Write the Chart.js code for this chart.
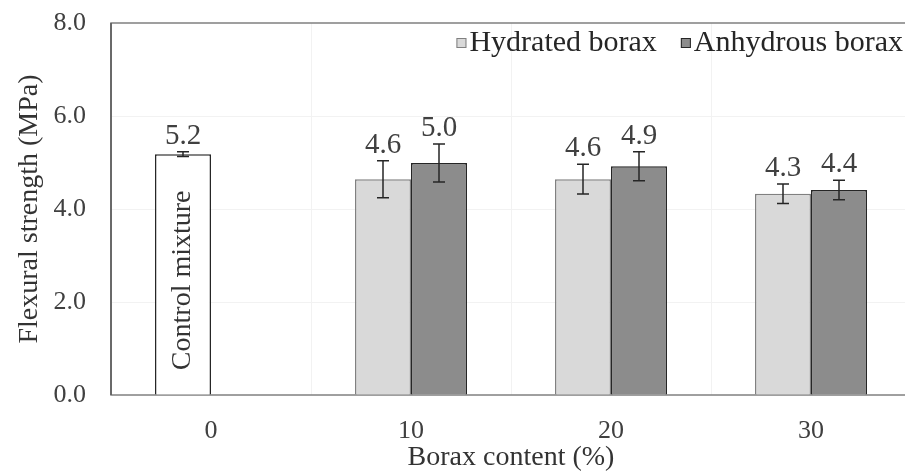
<!DOCTYPE html>
<html>
<head>
<meta charset="utf-8">
<title>Flexural strength vs borax content</title>
<script src="https://cdn.jsdelivr.net/npm/chart.js@4.4.1/dist/chart.umd.min.js"></script>
<style>
  html, body { margin: 0; padding: 0; background: #fff; overflow: hidden; }
  #wrap { width: 913px; height: 472px; }
</style>
</head>
<body>
<div id="wrap"><canvas id="strengthChart" width="913" height="472"></canvas></div>
<script>
// Values
const boraxContent = ['0', '10', '20', '30'];
const hydratedLabel = 'Hydrated borax';
const anhydrousLabel = 'Anhydrous borax';
// first hydrated value is really the control mixture (0 % borax)
const hydratedStrength = [5.18, 4.64, 4.64, 4.33];
const hydratedError = [0.05, 0.40, 0.32, 0.21];
const anhydrousStrength = [null, 4.99, 4.92, 4.41];
const anhydrousError = [null, 0.41, 0.31, 0.21];
const yTicks = [0, 2, 4, 6, 8];
const controlText = 'Control mixture';
const xTitle = 'Borax content (%)';
const yTitle = 'Flexural strength (MPa)';

// Styles
const serif = "'Liberation Serif', 'Times New Roman', serif";
const textColor = '#404040';
const controlFill = '#ffffff';
const controlBorder = '#262626';
const hydratedFill = '#d9d9d9';
const hydratedBorder = '#808080';
const anhydrousFill = '#8c8c8c';
const anhydrousBorder = '#262626';
const legendFill = [hydratedFill, anhydrousFill];
const legendStroke = [hydratedBorder, anhydrousBorder];

// Function to draw the frame round the plot area
const plotFrame = {
    id: 'plotFrame',
    beforeDatasetsDraw(chart) {
        const { ctx, chartArea: a } = chart;
        ctx.save();
        ctx.strokeStyle = '#808080';
        ctx.lineWidth = 1.5;
        ctx.strokeRect(a.left, a.top, a.right - a.left, a.bottom - a.top);
        ctx.strokeStyle = '#595959';
        ctx.beginPath();
        ctx.moveTo(a.left, a.top);
        ctx.lineTo(a.left, a.bottom);
        ctx.stroke();
        ctx.restore();
    }
};

// Function to draw error bars, value labels and the control text
const barExtras = {
    id: 'barExtras',
    afterDatasetsDraw(chart) {
        const ctx = chart.ctx;
        const yScale = chart.scales.y;
        chart.data.datasets.forEach((ds, i) => {
            const meta = chart.getDatasetMeta(i);
            meta.data.forEach((bar, j) => {
                const v = ds.data[j];
                const e = ds.errors[j];
                if (v == null) return;
                const top = yScale.getPixelForValue(v + e);
                const bottom = yScale.getPixelForValue(v - e);
                ctx.save();
                ctx.strokeStyle = '#262626';
                ctx.lineWidth = 1.5;
                ctx.beginPath();
                ctx.moveTo(bar.x, top);
                ctx.lineTo(bar.x, bottom);
                ctx.moveTo(bar.x - 6, top);
                ctx.lineTo(bar.x + 6, top);
                ctx.moveTo(bar.x - 6, bottom);
                ctx.lineTo(bar.x + 6, bottom);
                ctx.stroke();

                ctx.fillStyle = textColor;
                ctx.font = '29px ' + serif;
                ctx.textAlign = 'center';
                ctx.textBaseline = 'alphabetic';
                ctx.fillText(v.toFixed(1), bar.x, top - 8);

                if (i === 0 && j === 0) {
                    ctx.translate(bar.x, (bar.y + bar.base) / 2 + 6);
                    ctx.rotate(-Math.PI / 2);
                    ctx.font = '28px ' + serif;
                    ctx.textBaseline = 'middle';
                    ctx.fillStyle = '#333333';
                    ctx.fillText(controlText, 0, 0);
                }
                ctx.restore();
            });
        });
    }
};

// Function to draw the legend inside the top right of the plot
const boxLegend = {
    id: 'boxLegend',
    afterDraw(chart) {
        const { ctx, chartArea: a } = chart;
        const y = a.top + 20;
        let x = a.right - 8;
        ctx.save();
        ctx.font = '30px ' + serif;
        ctx.textBaseline = 'middle';
        ctx.lineWidth = 1;
        for (let i = chart.data.datasets.length - 1; i >= 0; i--) {
            const text = chart.data.datasets[i].label;
            x -= ctx.measureText(text).width;
            ctx.fillStyle = '#262626';
            ctx.fillText(text, x, y);
            x -= 13;
            ctx.fillStyle = legendFill[i];
            ctx.strokeStyle = legendStroke[i];
            ctx.fillRect(x, y - 5, 10, 10);
            ctx.strokeRect(x + 0.5, y - 4.5, 9, 9);
            x -= 24;
        }
        ctx.restore();
    }
};

document.addEventListener('DOMContentLoaded', () => {
    const ctx = document.getElementById('strengthChart').getContext('2d');
    new Chart(ctx, {
        type: 'bar',
        data: {
            labels: boraxContent,
            datasets: [{
                label: hydratedLabel,
                data: hydratedStrength,
                errors: hydratedError,
                backgroundColor: c => c.dataIndex === 0 ? controlFill : hydratedFill,
                borderColor: c => c.dataIndex === 0 ? controlBorder : hydratedBorder,
                borderWidth: 1.5,
                categoryPercentage: 0.56,
                barPercentage: 1
            }, {
                label: anhydrousLabel,
                data: anhydrousStrength,
                errors: anhydrousError,
                backgroundColor: anhydrousFill,
                borderColor: anhydrousBorder,
                borderWidth: 1.5,
                categoryPercentage: 0.56,
                barPercentage: 1
            }]
        },
        options: {
            responsive: false,
            animation: false,
            layout: { padding: { top: 23, right: 2, left: 0, bottom: 0 } },
            plugins: {
                tooltip: { enabled: false },
                legend: { display: false }
            },
            scales: {
                x: {
                    afterFit: scale => { scale.height = 77; },
                    grid: { color: '#f2f2f2', drawTicks: false },
                    border: { display: false },
                    ticks: { color: textColor, padding: 21, font: { family: serif, size: 26 } },
                    title: {
                        display: true,
                        text: xTitle,
                        color: '#333333',
                        padding: 0,
                        font: { family: serif, size: 28, lineHeight: 1 }
                    }
                },
                y: {
                    min: 0,
                    max: 8,
                    afterFit: scale => {
                        scale.width = 111;
                        scale.paddingTop = 0;
                        scale.paddingBottom = 0;
                    },
                    afterBuildTicks: scale => { scale.ticks = yTicks.map(v => ({ value: v })); },
                    grid: { color: c => c.tick.value === 0 || c.tick.value === 8 ? 'rgba(0,0,0,0)' : '#f2f2f2', drawTicks: false },
                    border: { display: false },
                    ticks: {
                        color: textColor,
                        padding: 25,
                        font: { family: serif, size: 26 },
                        callback: v => Number(v).toFixed(1)
                    },
                    title: {
                        display: true,
                        text: yTitle,
                        color: '#333333',
                        padding: { top: 16, bottom: 0 },
                        font: { family: serif, size: 28, lineHeight: 1 }
                    }
                }
            }
        },
        plugins: [plotFrame, barExtras, boxLegend]
    });
});
</script>
</body>
</html>
